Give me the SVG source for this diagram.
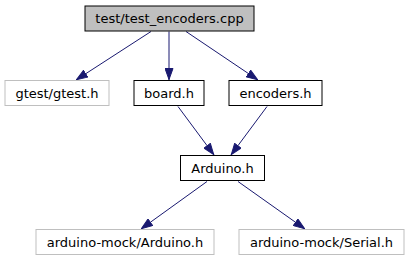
<svg xmlns="http://www.w3.org/2000/svg" width="409" height="261" viewBox="0 0 409 261">
<style>
  .node rect { stroke-width: 1; }
  .main rect { fill: #bfbfbf; stroke: #000000; }
  .local rect { fill: #ffffff; stroke: #000000; }
  .ext rect { fill: #ffffff; stroke: #bfbfbf; }
  .node text { font-family: "DejaVu Sans", sans-serif; font-size: 13px; fill: #000000; text-anchor: middle; }
  .edges path { fill: none; stroke: #191970; stroke-width: 1; }
</style>
<defs>
  <marker id="arrow" viewBox="0 0 12 9" refX="12" refY="4.5" markerWidth="12" markerHeight="9" markerUnits="userSpaceOnUse" orient="auto">
    <path d="M0.5,0.5 L11.5,4.5 L0.5,8.5 Z" fill="#191970" stroke="#191970"/>
  </marker>
</defs>
<rect width="409" height="261" fill="#ffffff"/>
<g class="edges">
  <path d="M151,31.5 L76,80" marker-end="url(#arrow)"/>
  <path d="M169,31.5 L169,80" marker-end="url(#arrow)"/>
  <path d="M186,31.5 L258,80" marker-end="url(#arrow)"/>
  <path d="M178,106.5 L214,155" marker-end="url(#arrow)"/>
  <path d="M267,106.5 L231,155" marker-end="url(#arrow)"/>
  <path d="M207,181.5 L141,229" marker-end="url(#arrow)"/>
  <path d="M238,181.5 L305,229" marker-end="url(#arrow)"/>
</g>
<g id="node-test-encoders" class="node main">
  <rect x="85" y="6" width="169" height="25"/>
  <text x="169.5" y="23">test/test_encoders.cpp</text>
</g>
<g id="node-gtest" class="node ext">
  <rect x="5" y="80.5" width="104" height="25"/>
  <text x="57" y="97.5">gtest/gtest.h</text>
</g>
<g id="node-board" class="node local">
  <rect x="134" y="80.5" width="70" height="25"/>
  <text x="169" y="97.5">board.h</text>
</g>
<g id="node-encoders" class="node local">
  <rect x="229" y="80.5" width="93" height="25"/>
  <text x="275.5" y="97.5">encoders.h</text>
</g>
<g id="node-arduino" class="node local">
  <rect x="180.5" y="155.5" width="84" height="25"/>
  <text x="222.5" y="172.5">Arduino.h</text>
</g>
<g id="node-mock-arduino" class="node ext">
  <rect x="36" y="229.5" width="178" height="25"/>
  <text x="125" y="246.5">arduino-mock/Arduino.h</text>
</g>
<g id="node-mock-serial" class="node ext">
  <rect x="239" y="229.5" width="165" height="25"/>
  <text x="321.5" y="246.5">arduino-mock/Serial.h</text>
</g>
</svg>
